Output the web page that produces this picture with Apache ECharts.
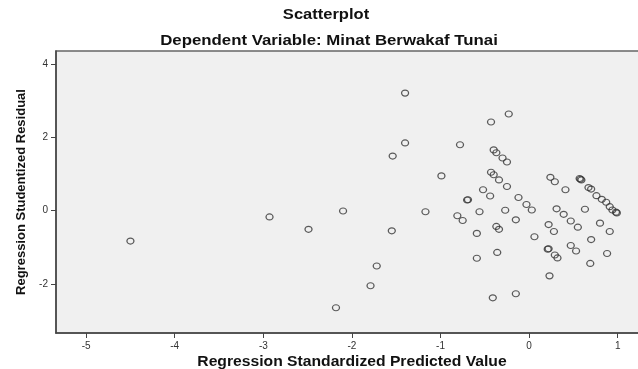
<!DOCTYPE html>
<html>
<head>
<meta charset="utf-8">
<script src="https://cdn.jsdelivr.net/npm/echarts@6/dist/echarts.min.js"></script>
<style>
  html, body { margin: 0; padding: 0; background: #fff; }
  #chart { width: 638px; height: 369px; }
</style>
</head>
<body>
<div id="chart"></div>
<script>
// predicted values (x) and studentized residuals (y)
var predicted = [
  -4.50, -2.93, -2.49, -2.18, -2.10, -1.40, -0.23, -0.43, -1.40, -0.78,
  -1.54, -0.40, -0.37, -0.30, -0.25, -0.99, -0.43, -0.40, -0.34, -0.25,
  -0.52, 0.24, 0.29, 0.41, 0.57, 0.58, 0.59, 0.67, 0.70, 0.76,
  0.82, 0.87, 0.91, 0.94, 0.98, 0.99, -0.44, -0.70, -0.69, -0.12,
  -0.03, 0.03, -0.27, -0.56, -1.17, -0.81, -0.75, 0.31, 0.39, 0.63,
  0.47, 0.55, 0.80, 0.91, -0.15, -0.37, -0.34, 0.22, 0.28, -0.59,
  0.06, 0.70, -1.55, 0.21, 0.22, 0.29, 0.32, 0.47, 0.53, 0.88,
  0.69, -0.36, -0.59, -1.72, -1.79, 0.23, -0.15, -0.41
];
var residual = [
  -0.83, -0.17, -0.51, -2.65, -0.01, 3.21, 2.64, 2.42, 1.85, 1.80,
  1.49, 1.66, 1.58, 1.44, 1.33, 0.95, 1.05, 0.98, 0.84, 0.66,
  0.57, 0.91, 0.79, 0.57, 0.88, 0.86, 0.84, 0.63, 0.59, 0.41,
  0.31, 0.23, 0.11, 0.02, -0.04, -0.06, 0.40, 0.29, 0.30, 0.36,
  0.17, 0.02, 0.01, -0.03, -0.03, -0.14, -0.27, 0.05, -0.10, 0.04,
  -0.28, -0.45, -0.34, -0.57, -0.25, -0.43, -0.51, -0.38, -0.57, -0.62,
  -0.71, -0.79, -0.55, -1.05, -1.04, -1.21, -1.29, -0.95, -1.10, -1.17,
  -1.44, -1.14, -1.30, -1.51, -2.05, -1.78, -2.27, -2.38
];
var xTicks = [-5, -4, -3, -2, -1, 0, 1];
var yTicks = [-2, 0, 2, 4];

var points = predicted.map(function (x, i) { return [x, residual[i]]; });

var font = 'Liberation Sans, Arial, sans-serif';
var chart = echarts.init(document.getElementById('chart'));

// the reference image is stretched sideways a little, so horizontal text gets scaleX
function label(text, x, y, size, sx) {
  return {
    type: 'text', x: x, y: y, scaleX: sx,
    style: {
      text: text, fill: '#111',
      font: 'bold ' + size + 'px ' + font,
      textAlign: 'center', textVerticalAlign: 'middle'
    }
  };
}

var option = {
  backgroundColor: '#ffffff',
  animation: false,
  graphic: [
    label('Scatterplot', 326, 15, 14, 1.18),
    label('Dependent Variable: Minat Berwakaf Tunai', 329, 41, 14, 1.2),
    label('Regression Standardized Predicted Value', 352, 362, 14, 1.12)
  ],
  // plot box runs past the right edge of the picture, as in the reference crop
  grid: {
    left: 56, top: 51, width: 600, height: 282,
    outerBoundsMode: 'none',
    containLabel: false,
    show: true,
    backgroundColor: '#f0f0f0',
    borderColor: '#666',
    borderWidth: 1.5
  },
  xAxis: {
    type: 'value',
    min: -5.34, max: 1.432,
    axisLine: { show: true, onZero: false, lineStyle: { color: '#444', width: 1.5 } },
    axisTick: { show: true, length: 5, customValues: xTicks, lineStyle: { color: '#444' } },
    axisLabel: {
      customValues: xTicks, margin: 8,
      fontFamily: font, fontSize: 10, color: '#333'
    },
    splitLine: { show: false }
  },
  yAxis: {
    type: 'value',
    min: -3.34, max: 4.36,
    name: 'Regression Studentized Residual',
    nameLocation: 'middle',
    nameGap: 28,
    nameTextStyle: { fontFamily: font, fontSize: 13, fontWeight: 'bold', color: '#111' },
    axisLine: { show: true, onZero: false, lineStyle: { color: '#444', width: 1.5 } },
    axisTick: { show: true, length: 5, customValues: yTicks, lineStyle: { color: '#444' } },
    axisLabel: {
      customValues: yTicks, margin: 8,
      fontFamily: font, fontSize: 10, color: '#333'
    },
    splitLine: { show: false }
  },
  series: [
    {
      type: 'scatter',
      data: points,
      symbol: 'circle',
      symbolSize: [7, 6],
      itemStyle: { color: 'rgba(0,0,0,0)', borderColor: '#333', borderWidth: 1.2 }
    }
  ]
};

chart.setOption(option);
</script>
</body>
</html>
